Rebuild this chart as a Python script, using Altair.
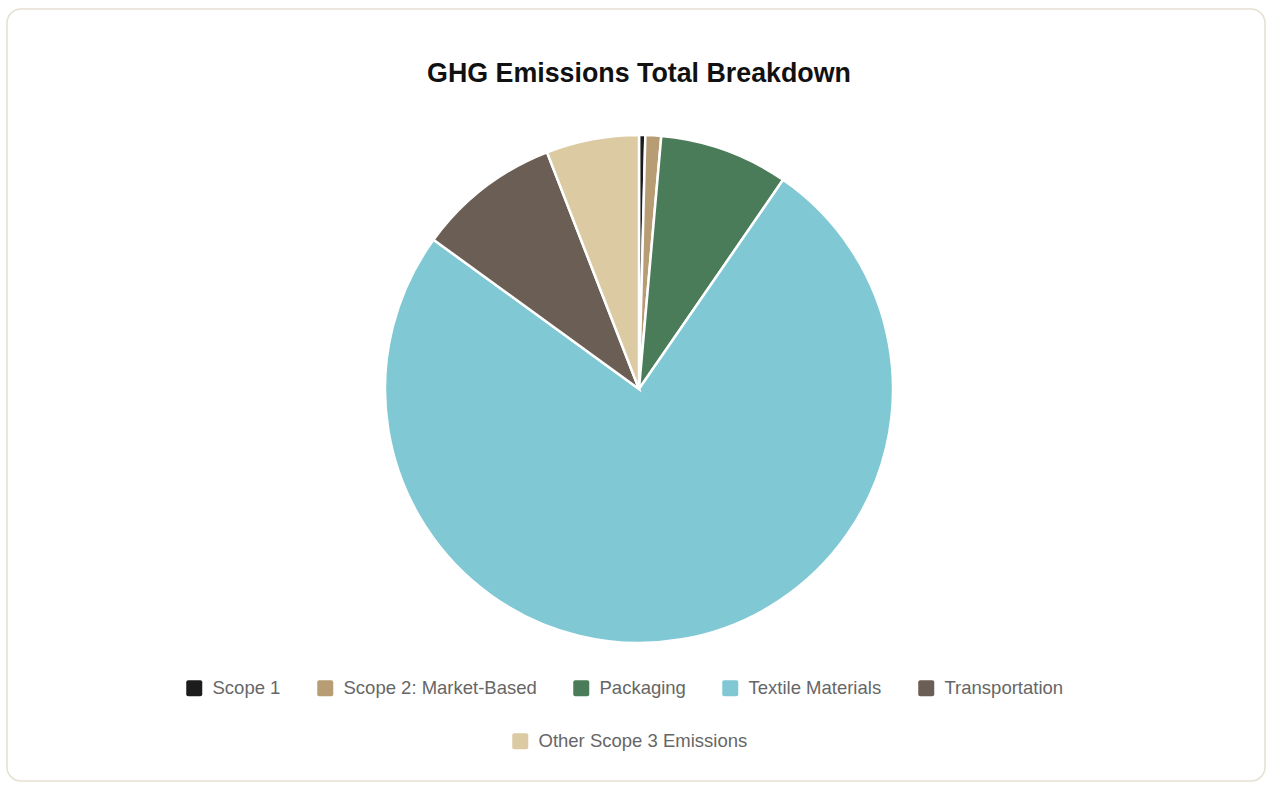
import altair as alt
import pandas as pd

categories = ["Scope 1", "Scope 2: Market-Based", "Packaging", "Textile Materials",
              "Transportation", "Other Scope 3 Emissions"]
shares = [0.4, 1.0, 8.2, 75.4, 9.1, 5.9]
colors = ["#1c1c1c", "#b89c74", "#4a7c59", "#7fc8d4", "#6b5e54", "#dccaa3"]

df = pd.DataFrame({"category": categories, "share": shares, "idx": list(range(len(categories)))})

rounded = "M-0.75,-1H0.75Q1,-1,1,-0.75V0.75Q1,1,0.75,1H-0.75Q-1,1,-1,0.75V-0.75Q-1,-1,-0.75,-1Z"

def legend(values, x, y):
    return alt.Legend(
        title=None, orient="none", legendX=x, legendY=y, direction="horizontal",
        columns=len(values), values=values, symbolType=rounded, symbolSize=256,
        symbolStrokeWidth=0, labelFont="Liberation Sans", labelFontSize=18.5,
        labelColor="#666666", labelOffset=9, columnPadding=35, gridAlign="none",
        padding=0, labelLimit=400,
    )

def pie(values, x, y):
    return alt.Chart(df).mark_arc(radius=254, stroke="white", strokeWidth=2.5).encode(
        theta=alt.Theta("share:Q", stack=True),
        order=alt.Order("idx:Q"),
        color=alt.Color("category:N", scale=alt.Scale(domain=categories, range=colors),
                        legend=legend(values, x, y)),
        x=alt.value(632), y=alt.value(380),
    )

chart = alt.layer(
    pie(categories[:5], 178, 670),
    pie(categories[5:], 504, 723),
).resolve_scale(color="independent").resolve_legend(color="independent").properties(
    width=1258, height=772,
    title=alt.TitleParams("GHG Emissions Total Breakdown", font="Liberation Sans", fontSize=26.8,
                          fontWeight="bold", color="#111111", anchor="middle", dy=83, dx=3),
    autosize=alt.AutoSizeParams(type="none"),
    padding={"left": 7, "top": 9, "right": 2, "bottom": 4},
    background="white",
).configure_view(stroke="#e6e0d4", strokeWidth=1.5, cornerRadius=14, fill="white")

chart.save("out.html", embed_options={"renderer": "svg", "actions": False})
